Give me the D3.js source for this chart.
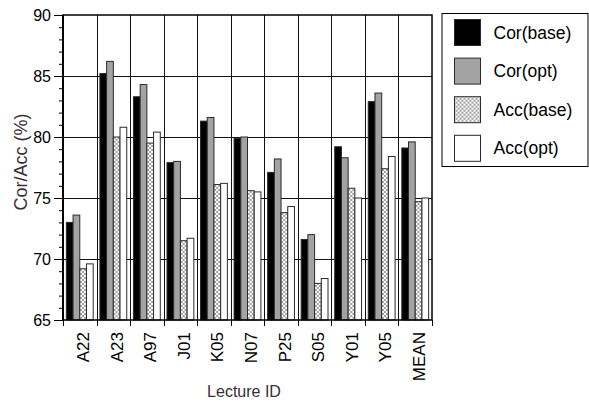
<!doctype html>
<html>
<head>
<meta charset="utf-8">
<script src="https://d3js.org/d3.v7.min.js"></script>
<style>
  body { margin: 0; background: #fff; }
  text { font-family: Arial, "Liberation Sans", sans-serif; }
</style>
</head>
<body>
<script>
// data
var lectures = ['A22', 'A23', 'A97', 'J01', 'K05', 'N07', 'P25', 'S05', 'Y01', 'Y05', 'MEAN'];
var seriesNames = ['Cor(base)', 'Cor(opt)', 'Acc(base)', 'Acc(opt)'];
var corBase = [73.0, 85.2, 83.3, 77.9, 81.3, 79.9, 77.1, 71.6, 79.2, 82.9, 79.1];
var corOpt  = [73.6, 86.2, 84.3, 78.0, 81.6, 80.0, 78.2, 72.0, 78.3, 83.6, 79.6];
var accBase = [69.2, 80.0, 79.5, 71.5, 76.1, 75.6, 73.8, 68.0, 75.8, 77.4, 74.7];
var accOpt  = [69.6, 80.8, 80.4, 71.7, 76.2, 75.5, 74.3, 68.4, 75.0, 78.4, 75.0];
var yTicks = [65, 70, 75, 80, 85, 90];

var seriesValues = [corBase, corOpt, accBase, accOpt];
var fills = ['#000', '#a3a3a3', 'url(#xhatch)', '#fff'];

var width = 589, height = 405;
// plot area (avoid the name "top", it is window.top)
var pLeft = 63, pRight = 432, pTop = 15, pBottom = 320;

var svg = d3.select('body').append('svg')
    .attr('width', width)
    .attr('height', height);

// cross hatch pattern for Acc(base)
var pat = svg.append('defs').append('pattern')
    .attr('id', 'xhatch')
    .attr('patternUnits', 'userSpaceOnUse')
    .attr('width', 4)
    .attr('height', 4);
pat.append('rect').attr('width', 4).attr('height', 4).attr('fill', '#fff');
pat.append('path')
    .attr('d', 'M0,0 L4,4 M4,0 L0,4')
    .attr('stroke', '#8a8a8a')
    .attr('stroke-width', 0.8);

var x0 = d3.scaleBand().domain(lectures).range([pLeft, pRight]).padding(0);
var x1 = d3.scaleBand().domain(seriesNames)
    .range([x0.bandwidth() * 0.1, x0.bandwidth() * 0.9]).padding(0);
var y = d3.scaleLinear().domain([65, 90]).range([pBottom, pTop]);

// grid
svg.append('g').selectAll('line')
    .data(yTicks.slice(1, -1))
    .enter().append('line')
    .attr('x1', pLeft).attr('x2', pRight)
    .attr('y1', function(d) { return Math.round(y(d)) + 0.5; })
    .attr('y2', function(d) { return Math.round(y(d)) + 0.5; })
    .attr('stroke', '#111').attr('stroke-width', 1);

svg.append('g').selectAll('line')
    .data(lectures.slice(1))
    .enter().append('line')
    .attr('x1', function(d) { return Math.round(x0(d)) + 0.5; })
    .attr('x2', function(d) { return Math.round(x0(d)) + 0.5; })
    .attr('y1', pTop).attr('y2', pBottom)
    .attr('stroke', '#111').attr('stroke-width', 1);

// bars
var rows = lectures.map(function(l, i) {
  return seriesNames.map(function(s, j) {
    return { lecture: l, series: s, value: seriesValues[j][i], k: j };
  });
});

svg.append('g').selectAll('g')
    .data(rows)
    .enter().append('g')
    .attr('transform', function(d) { return 'translate(' + x0(d[0].lecture) + ',0)'; })
    .selectAll('rect')
    .data(function(d) { return d; })
    .enter().append('rect')
    .attr('x', function(d) { return x1(d.series); })
    .attr('y', function(d) { return y(d.value); })
    .attr('width', x1.bandwidth())
    .attr('height', function(d) { return pBottom - y(d.value); })
    .attr('fill', function(d) { return fills[d.k]; })
    .attr('stroke', '#2a2a2a')
    .attr('stroke-width', 1);

// frame
svg.append('rect')
    .attr('x', pLeft).attr('y', pTop)
    .attr('width', pRight - pLeft).attr('height', pBottom - pTop)
    .attr('fill', 'none').attr('stroke', '#000').attr('stroke-width', 1.5);
svg.append('line')
    .attr('x1', pLeft).attr('x2', pLeft)
    .attr('y1', pTop).attr('y2', pBottom)
    .attr('stroke', '#000').attr('stroke-width', 2);

// y axis with minor ticks
var yAxis = d3.axisLeft(y).tickValues(yTicks).tickSize(9).tickPadding(3);
var gy = svg.append('g').attr('transform', 'translate(' + pLeft + ',0)').call(yAxis);
gy.select('.domain').remove();
gy.selectAll('text').style('font-size', '16px').attr('fill', '#000')
    .style('font-family', 'Arial, "Liberation Sans", sans-serif');
var yMinor = d3.axisLeft(y).tickValues(d3.range(65, 91).filter(function(v) { return v % 5 !== 0; }))
    .tickSize(4).tickFormat('');
var gym = svg.append('g').attr('transform', 'translate(' + pLeft + ',0)').call(yMinor);
gym.select('.domain').remove();

// x axis: ticks at band boundaries
var gx = svg.append('g').attr('transform', 'translate(0,' + pBottom + ')');
gx.selectAll('line')
    .data(d3.range(lectures.length + 1))
    .enter().append('line')
    .attr('x1', function(i) { return Math.round(pLeft + i * x0.step()) + 0.5; })
    .attr('x2', function(i) { return Math.round(pLeft + i * x0.step()) + 0.5; })
    .attr('y1', 0).attr('y2', 6)
    .attr('stroke', '#000');
gx.selectAll('text')
    .data(lectures)
    .enter().append('text')
    .attr('transform', function(d) {
      return 'translate(' + (x0(d) + x0.bandwidth() / 2 + 9.5) + ',12) rotate(-90)';
    })
    .attr('text-anchor', 'end')
    .style('font-size', '17px')
    .text(function(d) { return d; });

// axis titles
svg.append('text')
    .attr('transform', 'translate(27,162) rotate(-90)')
    .attr('text-anchor', 'middle')
    .attr('fill', '#3a2d3a')
    .style('font-size', '18px')
    .text('Cor/Acc (%)');

svg.append('text')
    .attr('x', 244)
    .attr('y', 397)
    .attr('text-anchor', 'middle')
    .attr('fill', '#3a2d3a')
    .style('font-size', '16px')
    .text('Lecture ID');

// legend
var lg = svg.append('g');
lg.append('rect')
    .attr('x', 442).attr('y', 13.5)
    .attr('width', 146).attr('height', 153)
    .attr('fill', '#fff').attr('stroke', '#000').attr('stroke-width', 1);
var items = lg.selectAll('g')
    .data(seriesNames)
    .enter().append('g')
    .attr('transform', function(d, i) { return 'translate(454.5,' + (19.5 + i * 38.6) + ')'; });
items.append('rect')
    .attr('width', 26).attr('height', 26)
    .attr('fill', function(d, i) { return fills[i]; })
    .attr('stroke', '#2a2a2a');
items.append('text')
    .attr('x', 39).attr('y', 13).attr('dy', '0.35em')
    .style('font-size', '17.5px')
    .text(function(d) { return d; });
</script>
</body>
</html>
